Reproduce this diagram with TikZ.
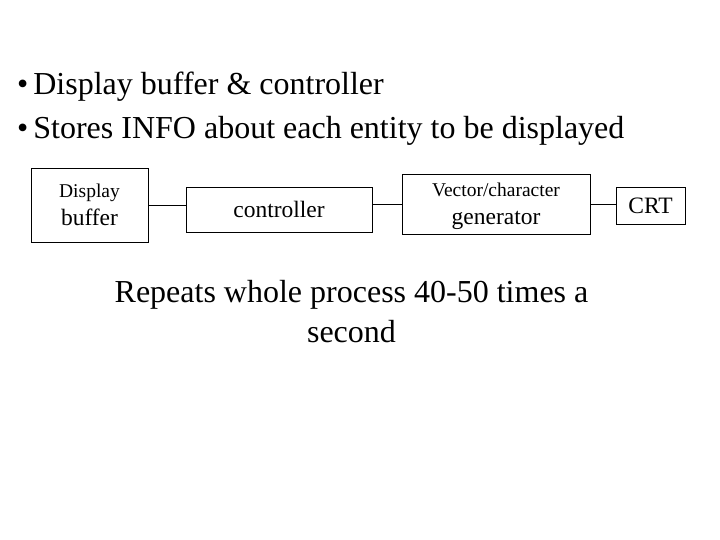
\documentclass[tikz,border=0pt]{standalone}
\usepackage{fontspec}
\setmainfont{Liberation Serif}
\usetikzlibrary{calc}

\newcommand{\bigtxt}{\fontsize{32}{40}\selectfont}
\newcommand{\boxtxt}{\fontsize{23.5}{27}\selectfont}
\newcommand{\smalltxt}{\fontsize{19.5}{22}\selectfont}
% small line over big line, baselines 28pt apart, no depth
\newcommand{\twoline}[2]{\vbox{\baselineskip=28pt\lineskiplimit=-50pt
  \halign{\hfil##\hfil\cr\smalltxt #1\cr\boxtxt #2\cr}\vskip-\prevdepth}}

\begin{document}
\begin{tikzpicture}[x=1pt,y=-1pt,
  blk/.style={draw,line width=0.8pt,inner sep=0pt,align=center},
  wire/.style={line width=0.8pt}]
\useasboundingbox (0,0) rectangle (720,540);

% bullet points
\node[anchor=base west,inner sep=0pt,font=\bigtxt] (item1) at (17,95)
  {\textbullet\hspace{5pt}Display buffer \& controller};
\node[anchor=base west,inner sep=0pt,font=\bigtxt] (item2) at (17,139)
  {\textbullet\hspace{5pt}Stores INFO about each entity to be displayed};

% blocks
\node[blk,minimum width=117,minimum height=74] (buf) at (89.5,205)
  {\twoline{Display}{buffer}};
\node[blk,minimum width=186,minimum height=45,font=\boxtxt] (ctrl) at (279,209.5)
  {controller};
\node[blk,minimum width=188,minimum height=60] (gen) at (496,204)
  {\twoline{Vector/character}{generator}};
\node[blk,minimum width=69,minimum height=37,font=\boxtxt] (crt) at (650.5,205.5)
  {CRT};

\draw[wire] (buf.east) -- (buf.east -| ctrl.west);
\draw[wire] (gen.west -| ctrl.east) -- (gen.west);
\draw[wire] (gen.east) -- (gen.east -| crt.west);

% note
\node[anchor=base,inner sep=0pt,align=center,font=\bigtxt] (note) at (351.5,342)
  {Repeats whole process 40-50 times a\\second};
\end{tikzpicture}
\end{document}
